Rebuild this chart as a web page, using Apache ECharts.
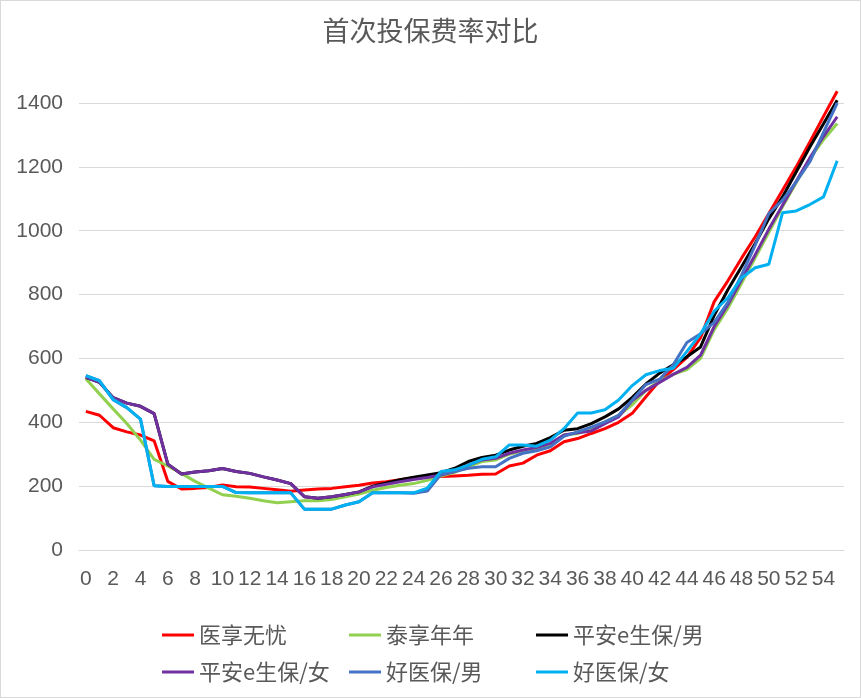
<!DOCTYPE html>
<html>
<head>
<meta charset="utf-8">
<script src="https://cdn.jsdelivr.net/npm/echarts@6/dist/echarts.min.js"></script>
<style>
html, body { margin: 0; padding: 0; background: #fff; }
#chart { width: 861px; height: 698px; box-sizing: border-box; border: 1px solid #d9d9d9; }
</style>
</head>
<body>
<div id="chart"></div>
<script>
// 年龄 0-55
var ages = [];
for (var a = 0; a <= 55; a++) ages.push(String(a));

var titleText = '首次投保费率对比';
var seriesNames = ['医享无忧', '泰享年年', '平安e生保/男', '平安e生保/女', '好医保/男', '好医保/女'];
var seriesColors = ['#ff0000', '#92d050', '#000000', '#7030a0', '#4472c4', '#00b0f0'];

// 各产品首次投保费率
var yixiang = [434, 422, 383, 370, 360, 342, 215, 191, 193, 196, 204, 198, 197, 193, 189, 184, 188, 191, 193, 198,
	203, 210, 214, 220, 226, 230, 230, 232, 234, 237, 238, 263, 272, 297, 311, 339, 349, 365, 380, 400,
	428, 480, 530, 565, 603, 665, 778, 843, 914, 981, 1054, 1127, 1200, 1278, 1358, 1437];
var taixiang = [536, 489, 442, 396, 344, 284, 263, 240, 215, 194, 173, 168, 162, 154, 148, 151, 154, 154, 158, 167,
	175, 187, 196, 203, 208, 218, 232, 243, 261, 277, 282, 300, 311, 318, 329, 360, 365, 380, 401, 422,
	455, 500, 530, 550, 565, 600, 690, 757, 835, 915, 995, 1075, 1150, 1225, 1285, 1336];
var pinganMale = [541, 525, 477, 460, 450, 427, 269, 238, 244, 248, 255, 246, 240, 229, 219, 208, 167, 162, 167, 174,
	182, 200, 210, 220, 228, 235, 242, 256, 277, 290, 297, 313, 325, 334, 352, 375, 380, 396, 417, 442,
	478, 520, 554, 580, 605, 636, 735, 815, 887, 960, 1038, 1106, 1184, 1262, 1335, 1409];
var pinganFemale = [541, 525, 477, 460, 450, 427, 269, 238, 244, 248, 255, 246, 240, 229, 219, 208, 167, 162, 167, 174,
	182, 198, 206, 214, 221, 227, 235, 246, 266, 282, 287, 303, 313, 321, 334, 360, 367, 373, 396, 417,
	468, 500, 525, 550, 572, 610, 700, 768, 846, 925, 1005, 1080, 1155, 1228, 1295, 1357];
var haoMale = [546, 530, 471, 446, 410, 201, 199, 199, 199, 199, 199, 180, 179, 179, 179, 179, 128, 128, 128, 141,
	151, 179, 179, 179, 178, 185, 237, 246, 256, 261, 261, 287, 303, 311, 323, 356, 370, 385, 401, 422,
	470, 518, 535, 580, 650, 677, 713, 776, 861, 955, 1054, 1096, 1153, 1216, 1308, 1400];
var haoFemale = [546, 530, 471, 446, 410, 201, 199, 199, 199, 199, 199, 180, 179, 179, 179, 179, 128, 128, 128, 141,
	151, 179, 179, 179, 179, 194, 246, 251, 266, 284, 292, 329, 329, 325, 344, 380, 429, 429, 439, 470,
	515, 549, 562, 569, 622, 677, 748, 790, 852, 884, 895, 1056, 1062, 1082, 1106, 1219];

var seriesValues = [yixiang, taixiang, pinganMale, pinganFemale, haoMale, haoFemale];

var textColor = '#595959';
var fontFamily = '"Liberation Sans", "Noto Sans CJK SC", sans-serif';

var chart = echarts.init(document.getElementById('chart'));

// 图例：三列两行
var legendPos = [[156, 618], [343, 618], [530, 618], [156, 655], [343, 655], [530, 655]];
var legends = seriesNames.map(function(name, i) {
	return {
		data: [name],
		left: legendPos[i][0],
		top: legendPos[i][1],
		icon: 'rect',
		itemWidth: 32,
		itemHeight: 3,
		textStyle: { color: textColor, fontSize: 22, fontFamily: '"Noto Sans CJK SC", sans-serif' }
	};
});

var series = seriesNames.map(function(name, i) {
	return {
		name: name,
		type: 'line',
		data: seriesValues[i],
		symbol: 'none',
		clip: false,
		lineStyle: { width: 3, color: seriesColors[i] },
		itemStyle: { color: seriesColors[i] }
	};
});

chart.setOption({
	animation: false,
	title: {
		text: titleText,
		left: 'center',
		top: 11,
		textStyle: { color: textColor, fontSize: 27, fontWeight: 'normal', fontFamily: '"Noto Sans CJK SC", sans-serif' }
	},
	legend: legends,
	grid: { left: 78, right: 16, top: 102, bottom: 147 },
	xAxis: {
		type: 'category',
		data: ages,
		boundaryGap: true,
		axisLine: { show: true, lineStyle: { color: '#d9d9d9', width: 1 } },
		axisTick: { show: false },
		axisLabel: { interval: 1, margin: 19, color: textColor, fontSize: 21, fontFamily: fontFamily }
	},
	yAxis: {
		type: 'value',
		min: 0,
		max: 1400,
		interval: 200,
		axisLine: { show: false },
		axisTick: { show: false },
		axisLabel: {
			margin: 16, color: textColor, fontSize: 21, fontFamily: fontFamily,
			formatter: function(v) { return String(v); }
		},
		splitLine: { lineStyle: { color: '#d9d9d9', width: 1 } }
	},
	series: series
});
</script>
</body>
</html>
